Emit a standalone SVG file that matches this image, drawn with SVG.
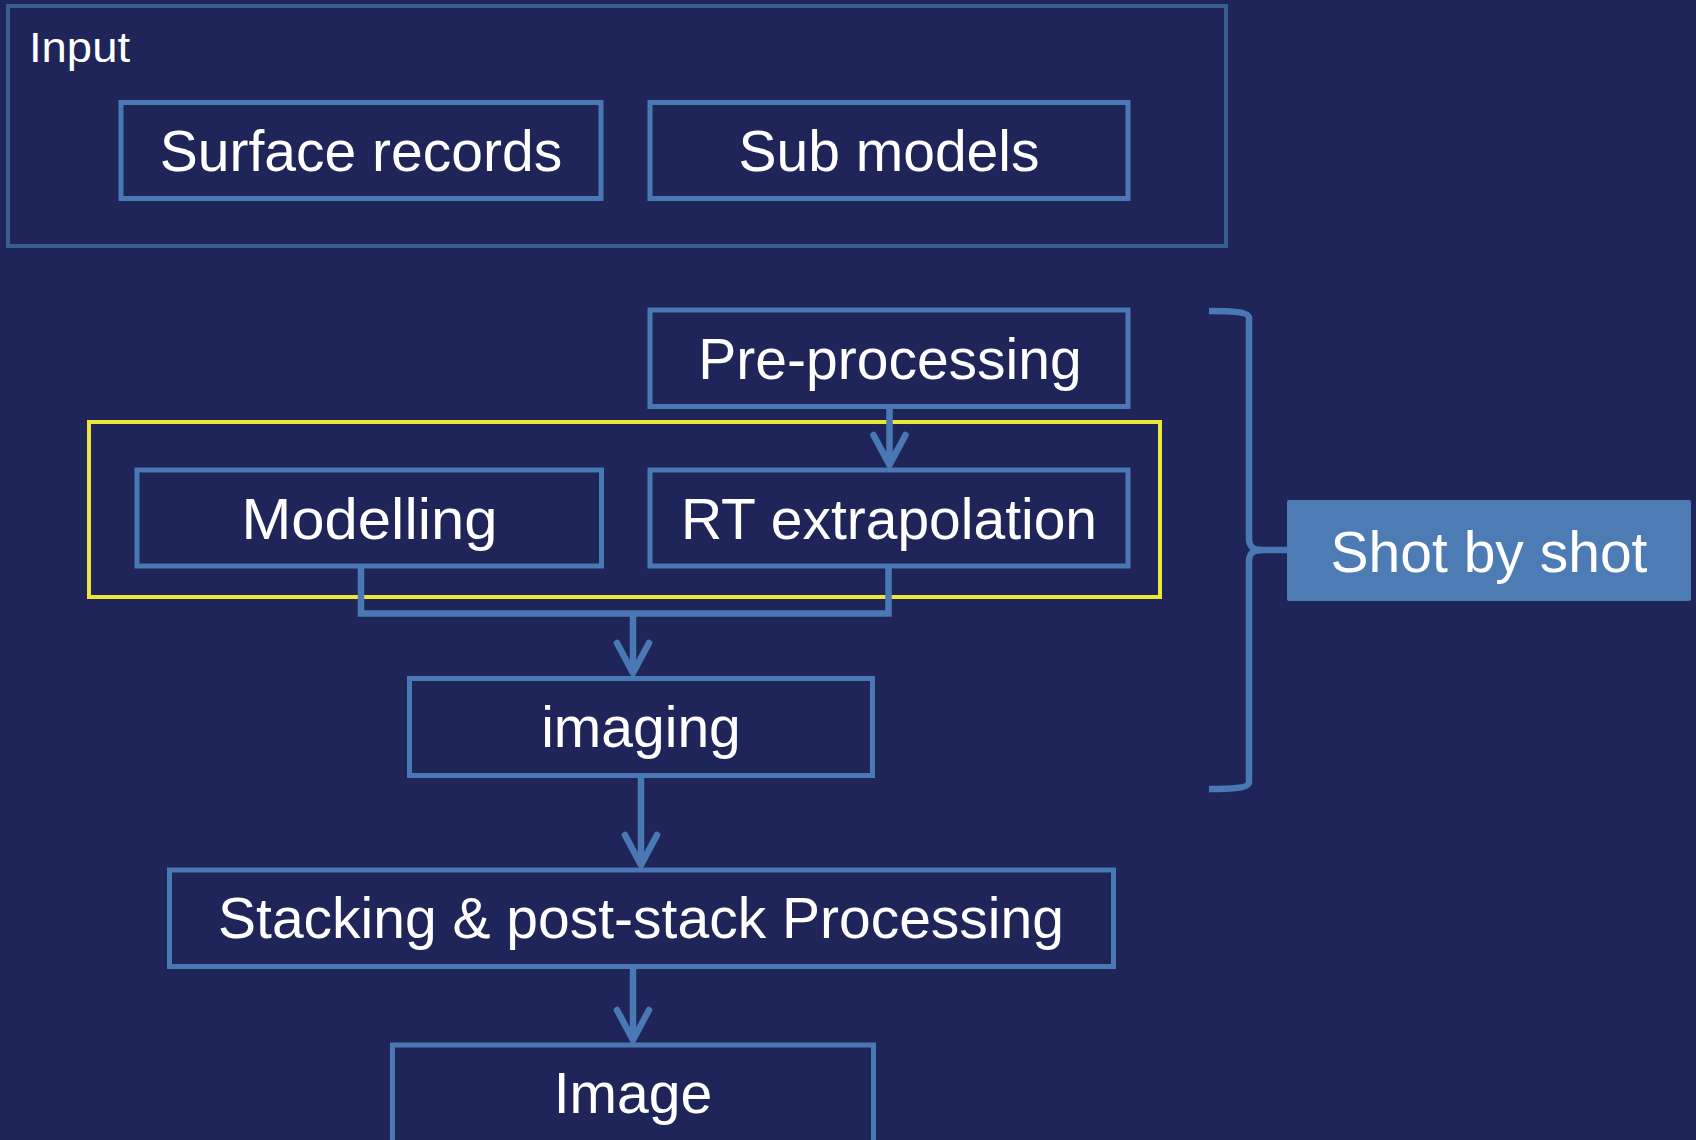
<svg xmlns="http://www.w3.org/2000/svg" width="1696" height="1140" viewBox="0 0 1696 1140">
<style>
.box{fill:none;stroke:#4a78b4;stroke-width:5}
.lbl{font-family:"Liberation Sans",Arial,sans-serif;font-size:57px;fill:#ffffff;text-anchor:middle}
.con{fill:none;stroke:#4a78b4;stroke-width:6.5}
</style>
<defs>
<marker id="arr" markerUnits="userSpaceOnUse" orient="auto" refX="0" refY="0" markerWidth="40" markerHeight="40" overflow="visible">
<path d="M-30,-16 L0,0 L-30,16" fill="none" stroke="#4a78b4" stroke-width="6.5" stroke-linejoin="round" stroke-linecap="round"/>
</marker>
</defs>
<rect width="1696" height="1140" fill="#1f2559"/>

<g id="input">
<rect x="8" y="6" width="1218" height="240" fill="none" stroke="#385e8c" stroke-width="4"/>
<text x="29" y="62" font-family="'Liberation Sans',Arial,sans-serif" font-size="43" textLength="101" lengthAdjust="spacingAndGlyphs" fill="#ffffff">Input</text>
</g>
<g id="surface-records">
<rect class="box" x="121" y="102.5" width="480" height="96"/>
<text class="lbl" x="361" y="171">Surface records</text>
</g>
<g id="sub-models">
<rect class="box" x="650" y="102.5" width="478" height="96"/>
<text class="lbl" x="889" y="171">Sub models</text>
</g>
<g id="shot-group">
<rect x="89" y="422" width="1071" height="175" fill="none" stroke="#ece53a" stroke-width="4"/>
</g>
<g id="pre-processing">
<rect class="box" x="650" y="310" width="478" height="96.5"/>
<text class="lbl" x="890" y="379">Pre-processing</text>
</g>
<g id="modelling">
<rect class="box" x="137" y="470" width="464.5" height="96"/>
<text class="lbl" x="369.5" y="539" textLength="256" lengthAdjust="spacingAndGlyphs">Modelling</text>
</g>
<g id="rt-extrapolation">
<rect class="box" x="650" y="470" width="478" height="96"/>
<text class="lbl" x="889" y="539">RT extrapolation</text>
</g>
<g id="imaging">
<rect class="box" x="409.5" y="678.5" width="463" height="97"/>
<text class="lbl" x="641" y="747">imaging</text>
</g>
<g id="stacking">
<rect class="box" x="169.5" y="870" width="944" height="96.5"/>
<text class="lbl" x="641" y="938">Stacking &amp; post-stack Processing</text>
</g>
<g id="image">
<rect class="box" x="392.5" y="1045" width="481" height="100"/>
<text class="lbl" x="633" y="1113">Image</text>
</g>
<g id="shot-by-shot">
<rect x="1287" y="500" width="404" height="101" rx="2" fill="#4d7bb4"/>
<text class="lbl" x="1489" y="572">Shot by shot</text>
</g>

<g id="connectors">
<path class="con" d="M889.5,407 V465" marker-end="url(#arr)"/>
<path class="con" d="M361,566 V613.5 H888.5 V566"/>
<path class="con" d="M633,613.5 V673" marker-end="url(#arr)"/>
<path class="con" d="M641,775 V865" marker-end="url(#arr)"/>
<path class="con" d="M633,967 V1040" marker-end="url(#arr)"/>
<path class="con" d="M1209,311 C1232,311 1249,312 1249,318 L1249,538 C1249,546 1252,550 1262,550 C1252,550 1249,554 1249,562 L1249,782 C1249,788 1232,789 1209,789"/>
<path class="con" d="M1255,550 H1288"/>
</g>
</svg>
